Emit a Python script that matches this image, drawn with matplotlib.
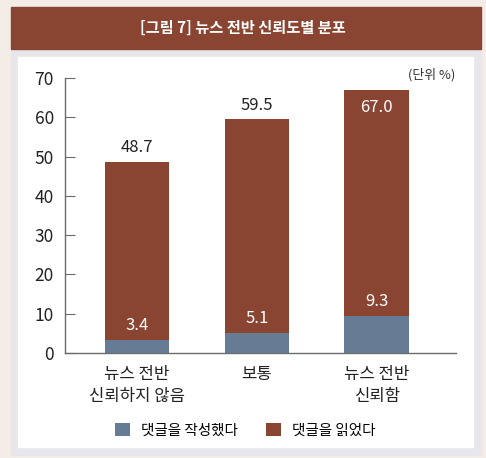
import numpy as np
import matplotlib.pyplot as plt
from matplotlib.patches import Rectangle

plt.rcParams['font.family'] = ['Noto Sans CJK KR', 'DejaVu Sans']

categories = ["뉴스 전반\n신뢰하지 않음", "보통", "뉴스 전반\n신뢰함"]
read_vals = [48.7, 59.5, 67.0]
write_vals = [3.4, 5.1, 9.3]
series_names = ["댓글을 작성했다", "댓글을 읽었다"]
yticks = [0, 10, 20, 30, 40, 50, 60, 70]

brown = "#8a4532"
blue = "#657c94"
axis_col = "#6b6b6b"

W, H = 486, 458
fig = plt.figure(figsize=(W / 100, H / 100), dpi=100)
fig.patch.set_facecolor("#f3ece7")

def box(x0, y0, x1, y1, color):
    # coordonnées en pixels (origine en haut à gauche)
    fig.add_artist(Rectangle((x0 / W, 1 - y1 / H), (x1 - x0) / W, (y1 - y0) / H,
                             transform=fig.transFigure, color=color, zorder=0))

box(11, 49, 481, 455, "#e7e7eb")
box(18, 57, 473, 447, "white")
box(11, 7, 481, 49, brown)
fig.text(243 / W, 1 - 28 / H, "[그림 7] 뉴스 전반 신뢰도별 분포", color="white",
         fontsize=11, fontweight="bold", ha="center", va="center")
fig.text(455 / W, 1 - 75 / H, "(단위 %)", fontsize=9.3, ha="right", va="center", color="#333333")

ax = fig.add_axes([65 / W, 1 - 353 / H, (456 - 65) / W, (353 - 78) / H])
ax.set_facecolor("none")
x = np.arange(len(categories))
bw = 0.54
bars_r = ax.bar(x, read_vals, width=bw, color=brown, label=series_names[1], zorder=2)
bars_w = ax.bar(x, write_vals, width=bw, color=blue, label=series_names[0], zorder=3)

ax.set_xlim(-0.6, 2.66)
ax.set_ylim(0, 70)
ax.set_yticks(yticks)
ax.set_xticks(x)
ax.set_xticklabels(categories, fontsize=12, color="#222222", linespacing=1.45)
ax.tick_params(axis="x", length=0, pad=9)
ax.tick_params(axis="y", direction="in", length=7, color=axis_col, labelsize=12.5,
               labelcolor="#222222", pad=8)
for s in ["top", "right"]:
    ax.spines[s].set_visible(False)
for s in ["left", "bottom"]:
    ax.spines[s].set_color(axis_col)
    ax.spines[s].set_linewidth(1.0)

for i, v in enumerate(read_vals):
    if v > 65:
        ax.annotate(f"{v:.1f}", (x[i], v), xytext=(0, -13), textcoords="offset points",
                    ha="center", va="center", color="white", fontsize=12)
    else:
        ax.annotate(f"{v:.1f}", (x[i], v), xytext=(0, 10), textcoords="offset points",
                    ha="center", va="center", color="#222222", fontsize=12)
for i, v in enumerate(write_vals):
    ax.annotate(f"{v:.1f}", (x[i], v), xytext=(0, 10.5), textcoords="offset points",
                ha="center", va="center", color="white", fontsize=12, zorder=4)

fig.legend(handles=[bars_w, bars_r], labels=series_names, loc="center",
           bbox_to_anchor=(245 / W, 1 - 430 / H), ncol=2, frameon=False,
           fontsize=10.5, handlelength=1.05, handleheight=1.05, columnspacing=1.9,
           handletextpad=0.75)

fig.savefig("out.png", dpi=100, facecolor=fig.get_facecolor())
